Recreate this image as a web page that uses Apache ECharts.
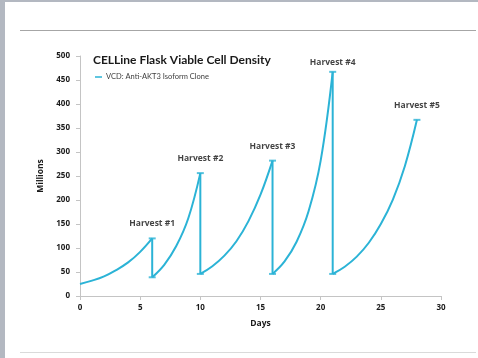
<!DOCTYPE html>
<html>
<head>
<meta charset="utf-8">
<script src="https://cdn.jsdelivr.net/npm/echarts@6/dist/echarts.min.js"></script>
<style>
  html, body { margin: 0; padding: 0; background: #ffffff; }
  #chart { width: 478px; height: 358px; }
</style>
</head>
<body>
<div id="chart"></div>
<script>
// Viable cell density (millions) per culture run, day by day
const run1Days = [0, 1, 2, 3, 4, 5, 6];
const run1Vcd  = [25, 32, 41, 54, 70, 92, 120];
const run2Days = [6, 7, 8, 9, 10];
const run2Vcd  = [39, 65, 104, 162, 256];
const run3Days = [10, 11, 12, 13, 14, 15, 16];
const run3Vcd  = [46, 62, 84, 114, 156, 211, 282];
const run4Days = [16, 17, 18, 19, 20, 21];
const run4Vcd  = [46, 72, 113, 177, 282, 467];
const run5Days = [21, 22, 23, 24, 25, 26, 27, 28];
const run5Vcd  = [46, 61, 82, 111, 150, 201, 271, 367];

const harvestNames = ['Harvest #1', 'Harvest #2', 'Harvest #3', 'Harvest #4', 'Harvest #5'];
const xTicks = [0, 5, 10, 15, 20, 25, 30];
const yTicks = [0, 50, 100, 150, 200, 250, 300, 350, 400, 450, 500];

const seriesName = 'VCD: Anti-AKT3 Isoform Clone';
const lineColor = '#2bb3d6';
const FONT = '"Open Sans", Lato, sans-serif';
const TITLE_FONT = 'Lato, "Open Sans", sans-serif';

const runs = [
  [run1Days, run1Vcd],
  [run2Days, run2Vcd],
  [run3Days, run3Vcd],
  [run4Days, run4Vcd],
  [run5Days, run5Vcd]
];

const series = [];

// growth curves
runs.forEach(([days, vcd]) => {
  series.push({
    name: seriesName,
    type: 'line',
    data: days.map((d, i) => [d, vcd[i]]),
    smooth: 0.4,
    showSymbol: false,
    lineStyle: { color: lineColor, width: 2 },
    itemStyle: { color: lineColor },
    silent: true
  });
});

// harvest drops: from the peak of one run to the seeding level of the next
for (let i = 0; i < runs.length - 1; i++) {
  const [d, v] = runs[i];
  const [nd, nv] = runs[i + 1];
  series.push({
    name: seriesName,
    type: 'line',
    data: [[d[d.length - 1], v[v.length - 1]], [nd[0], nv[0]]],
    showSymbol: false,
    lineStyle: { color: lineColor, width: 2 },
    itemStyle: { color: lineColor },
    silent: true
  });
}

// caps on peaks (with harvest labels) and troughs
const labelStyle = {
  show: true,
  position: 'top',
  color: '#111111',
  fontFamily: FONT,
  fontWeight: 'bold',
  fontSize: 8.5
};
const peakPoints = runs.map(([d, v], i) => ({
  value: [d[d.length - 1], v[v.length - 1]],
  label: Object.assign({}, labelStyle, {
    formatter: harvestNames[i],
    distance: i === 3 ? 4 : 9
  })
}));
const troughPoints = runs.slice(1).map(([d, v]) => [d[0], v[0]]);

series.push({
  name: seriesName,
  type: 'scatter',
  data: peakPoints,
  symbol: 'rect',
  symbolSize: [7, 2],
  itemStyle: { color: lineColor },
  label: labelStyle,
  silent: true
});
series.push({
  name: seriesName,
  type: 'scatter',
  data: troughPoints,
  symbol: 'rect',
  symbolSize: [7, 2],
  itemStyle: { color: lineColor },
  silent: true
});

const chart = echarts.init(document.getElementById('chart'), null, { renderer: 'canvas' });

chart.setOption({
  animation: false,
  backgroundColor: '#ffffff',
  title: {
    text: 'CELLine Flask Viable Cell Density',
    left: 88,
    top: 49,
    textStyle: { fontFamily: TITLE_FONT, fontWeight: 'bold', fontSize: 12, color: '#1a1a1a' }
  },
  legend: {
    data: [seriesName],
    left: 90,
    top: 68,
    icon: 'rect',
    itemWidth: 7,
    itemHeight: 1.5,
    itemGap: 4,
    textStyle: { fontFamily: TITLE_FONT, fontSize: 7.5, color: '#404040', padding: [0, 0, 0, -1] }
  },
  grid: { left: 80, right: 37, top: 56, bottom: 62 },
  xAxis: {
    type: 'value',
    min: xTicks[0],
    max: xTicks[xTicks.length - 1],
    interval: xTicks[1] - xTicks[0],
    name: 'Days',
    nameLocation: 'middle',
    nameGap: 23,
    nameTextStyle: { fontFamily: FONT, fontWeight: 'bold', fontSize: 8.5, color: '#1a1a1a' },
    axisLine: { lineStyle: { color: '#c4c4c4', width: 1 } },
    axisTick: { show: true, length: 4, lineStyle: { color: '#c4c4c4' } },
    axisLabel: { fontFamily: FONT, fontWeight: 'bold', fontSize: 8, color: '#1a1a1a', margin: 8 },
    splitLine: { show: false }
  },
  yAxis: {
    type: 'value',
    min: yTicks[0],
    max: yTicks[yTicks.length - 1],
    interval: yTicks[1] - yTicks[0],
    name: 'Millions',
    nameLocation: 'middle',
    nameGap: 34,
    nameRotate: 90,
    nameTextStyle: { fontFamily: FONT, fontWeight: 'bold', fontSize: 8.5, color: '#1a1a1a' },
    axisLine: { show: true, lineStyle: { color: '#c4c4c4', width: 1 } },
    axisTick: { show: true, length: 4, lineStyle: { color: '#c4c4c4' } },
    axisLabel: { fontFamily: FONT, fontWeight: 'bold', fontSize: 8, color: '#1a1a1a', margin: 10 },
    splitLine: { show: false }
  },
  graphic: [
    // window frame strips
    { type: 'rect', left: 0, top: 0, shape: { width: 5, height: 358 }, style: { fill: '#b3b8c1' }, silent: true },
    { type: 'rect', left: 0, top: 0, shape: { width: 478, height: 2 }, style: { fill: '#b3b8c1' }, silent: true },
    // page rules above and below the chart
    { type: 'line', shape: { x1: 20, y1: 30.5, x2: 476, y2: 30.5 }, style: { stroke: '#a6a6a6', lineWidth: 1 }, silent: true },
    { type: 'line', shape: { x1: 20, y1: 352.5, x2: 476, y2: 352.5 }, style: { stroke: '#dadada', lineWidth: 1 }, silent: true }
  ],
  series: series
});
</script>
</body>
</html>
